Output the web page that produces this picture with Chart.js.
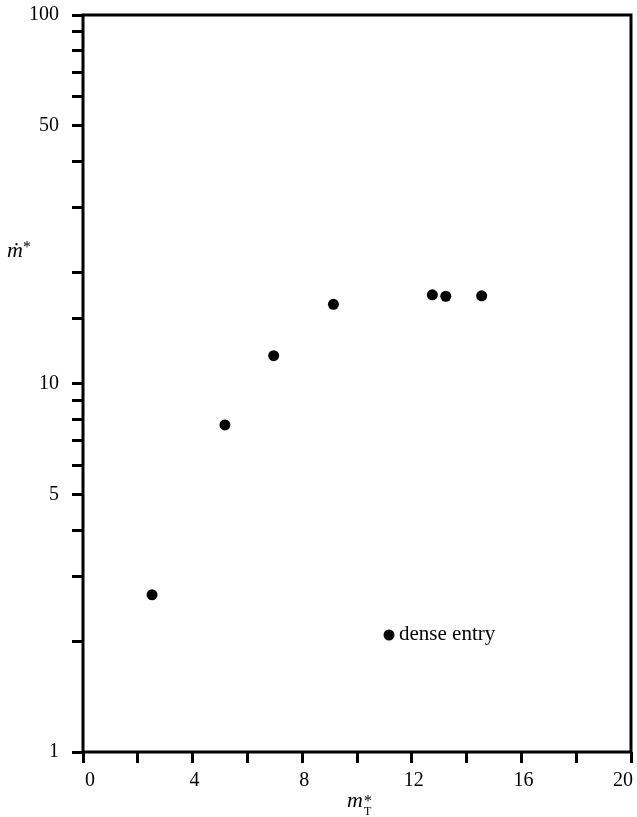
<!DOCTYPE html>
<html lang="en">
<head>
  <meta charset="UTF-8">
  <title>Mass flux vs total mass</title>
  <script src="https://cdn.jsdelivr.net/npm/chart.js"></script>
  <style>
    body {
      margin: 0;
      background: #fff;
    }
    #wrap {
      width: 637px;
      height: 817px;
    }
  </style>
</head>
<body>
<div id="wrap">
  <canvas id="chart" width="637" height="817"></canvas>
</div>

<script>
  // m*_T values and the matching mdot* values
  const massTotal = [2.52, 5.18, 6.96, 9.14, 12.75, 13.24, 14.55];
  const massRate = [2.67, 7.72, 11.9, 16.4, 17.4, 17.25, 17.3];
  const yLabelled = [1, 5, 10, 50, 100];
  const legendText = 'dense entry';

  const serif = '"Liberation Serif", "Times New Roman", serif';

  const framePlugin = {
    id: 'frame',
    afterDraw(chart) {
      const { ctx, chartArea: a } = chart;
      ctx.save();
      ctx.strokeStyle = '#000';
      ctx.lineWidth = 3;
      ctx.strokeRect(a.left, a.top, a.right - a.left, a.bottom - a.top);

      ctx.fillStyle = '#000';
      ctx.textBaseline = 'alphabetic';

      // y title: m-dot with a star
      ctx.font = 'italic 22px ' + serif;
      ctx.textAlign = 'left';
      ctx.fillText('\u1E41', 7, 257);
      const mw = ctx.measureText('\u1E41').width;
      ctx.font = '16px ' + serif;
      ctx.fillText('*', 7 + mw, 252);

      // x title: m with star over subscript T
      ctx.font = 'italic 22px ' + serif;
      ctx.fillText('m', 347, 807);
      const xw = ctx.measureText('m').width;
      ctx.font = '16px ' + serif;
      ctx.fillText('*', 348 + xw, 806);
      ctx.font = '12px ' + serif;
      ctx.fillText('T', 348 + xw, 815);

      // legend inside the plot
      const ds = chart.data.datasets[0];
      ctx.beginPath();
      ctx.arc(389, 635, ds.pointRadius, 0, Math.PI * 2);
      ctx.fillStyle = ds.backgroundColor;
      ctx.fill();
      ctx.fillStyle = '#000';
      ctx.font = '21px ' + serif;
      ctx.fillText(legendText, 399, 640);
      ctx.restore();
    }
  };

  new Chart(document.getElementById('chart'), {
    type: 'scatter',
    data: {
      datasets: [{
        label: legendText,
        data: massTotal.map((x, i) => ({ x, y: massRate[i] })),
        backgroundColor: '#000',
        borderWidth: 0,
        pointRadius: 5.5,
        pointHoverRadius: 5.5
      }]
    },
    options: {
      responsive: false,
      animation: false,
      layout: { padding: { top: 15, right: 6, left: 0, bottom: 0 } },
      plugins: {
        legend: { display: false },
        tooltip: { enabled: false }
      },
      scales: {
        x: {
          type: 'linear',
          min: 0,
          max: 20,
          border: { display: false },
          grid: { drawOnChartArea: false, drawTicks: true, tickLength: 11, lineWidth: 3, color: '#000' },
          ticks: {
            stepSize: 2,
            autoSkip: false,
            maxRotation: 0,
            align: 'inner',
            padding: 6,
            labelOffset: 2,
            color: '#000',
            font: { family: serif, size: 20 },
            callback: v => (v % 4 === 0 ? v : '')
          },
          afterFit: s => {
            s.height = 65;
            s.paddingLeft = 0;
            s.paddingRight = 0;
          }
        },
        y: {
          type: 'logarithmic',
          min: 1,
          max: 100,
          border: { display: false },
          grid: { drawOnChartArea: false, drawTicks: true, tickLength: 11, lineWidth: 3, color: '#000' },
          ticks: {
            autoSkip: false,
            padding: 13,
            color: '#000',
            font: { family: serif, size: 20 },
            callback: v => (yLabelled.includes(v) ? String(v) : '')
          },
          afterFit: s => {
            s.width = 83;
            s.paddingTop = 0;
            s.paddingBottom = 0;
          }
        }
      }
    },
    plugins: [framePlugin]
  });
</script>
</body>
</html>
